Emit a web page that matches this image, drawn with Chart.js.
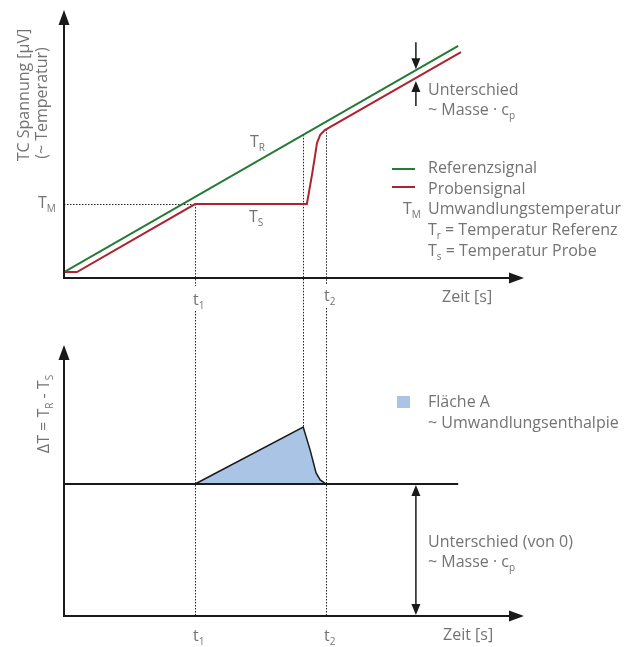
<!DOCTYPE html>
<html>
<head>
<meta charset="utf-8">
<script src="https://cdn.jsdelivr.net/npm/chart.js@4/dist/chart.umd.min.js"></script>
<style>
  html, body { margin: 0; padding: 0; background: #fff; }
  canvas { display: block; }
</style>
</head>
<body>
<canvas id="dsc-top" width="624" height="320"></canvas>
<canvas id="dsc-bottom" width="624" height="327"></canvas>
<script>
(function () {
  'use strict';

  // upper panel: TC signal over time (schematic units 0..100)
  var refTime = [0, 85.7];
  var refSignal = [2.2, 86.6];
  var probeTime = [0, 2.8, 28.5, 52.8, 53.9, 54.6, 55.0, 55.7, 56.7, 86.3];
  var probeSignal = [2.2, 2.2, 27.6, 27.6, 38.4, 45.9, 50.4, 53.4, 55.2, 84.3];

  // lower panel: delta T = T_R - T_S
  var baseTime = [0, 85.7];
  var baseDelta = [48.7, 48.7];
  var peakTime = [28.5, 52.0, 53.5, 54.8, 55.7, 57.0];
  var peakDelta = [48.7, 69.7, 61.3, 52.8, 50.2, 48.7];

  // marker positions
  var t1 = 28.5;
  var tPeak = 52.0;
  var t2 = 57.0;
  var tArrow = 76.5;
  var tempM = 27.6;

  var GREEN = '#267a36';
  var RED = '#ad2330';
  var BLUE = '#a9c4e5';
  var INK = '#1a1a1a';
  var TEXT = '#737373';
  var FONT = "'Open Sans', sans-serif";
  var SIZE = 16;

  function pts(xs, ys) {
    return xs.map(function (x, i) { return { x: x, y: ys[i] }; });
  }

  function interp(xs, ys, x) {
    for (var i = 1; i < xs.length; i++) {
      if (x <= xs[i]) {
        var f = (x - xs[i - 1]) / (xs[i] - xs[i - 1]);
        return ys[i - 1] + f * (ys[i] - ys[i - 1]);
      }
    }
    return ys[ys.length - 1];
  }

  function head(ctx, x, y, dir, len, half) {
    ctx.beginPath();
    ctx.moveTo(x, y);
    if (dir === 'up') { ctx.lineTo(x - half, y + len); ctx.lineTo(x + half, y + len); }
    if (dir === 'down') { ctx.lineTo(x - half, y - len); ctx.lineTo(x + half, y - len); }
    if (dir === 'right') { ctx.lineTo(x - len, y - half); ctx.lineTo(x - len, y + half); }
    ctx.closePath();
    ctx.fill();
  }

  function line(ctx, x0, y0, x1, y1) {
    ctx.beginPath();
    ctx.moveTo(x0, y0);
    ctx.lineTo(x1, y1);
    ctx.stroke();
  }

  // crisp 1px dotted guide
  function dotted(ctx, x0, y0, x1, y1) {
    ctx.save();
    ctx.strokeStyle = '#222';
    ctx.lineWidth = 1;
    ctx.setLineDash([1.5, 1.5]);
    if (x0 === x1) {
      x0 = x1 = Math.round(x0) + 0.5;
    } else {
      y0 = y1 = Math.round(y0) + 0.5;
    }
    line(ctx, x0, y0, x1, y1);
    ctx.restore();
  }

  // text made of runs: [text, isSub]
  function runWidth(ctx, parts, size) {
    var w = 0;
    parts.forEach(function (p) {
      ctx.font = (p[1] ? Math.round(size * 0.6) : size) + 'px ' + FONT;
      w += ctx.measureText(p[0]).width;
    });
    return w;
  }

  function runs(ctx, x, y, parts, size) {
    size = size || SIZE;
    var cx = x;
    ctx.fillStyle = TEXT;
    ctx.textBaseline = 'alphabetic';
    ctx.textAlign = 'left';
    parts.forEach(function (p) {
      ctx.font = (p[1] ? Math.round(size * 0.6) : size) + 'px ' + FONT;
      ctx.fillText(p[0], cx, y + (p[1] ? 4 : 0));
      cx += ctx.measureText(p[0]).width;
    });
  }

  function vertical(ctx, cx, baseX, parts, size) {
    size = size || SIZE;
    ctx.save();
    ctx.translate(baseX, cx);
    ctx.rotate(-Math.PI / 2);
    var w = runWidth(ctx, parts, size);
    runs(ctx, -w / 2, 0, parts, size);
    ctx.restore();
  }

  function axes(ctx, area) {
    ctx.save();
    ctx.strokeStyle = INK;
    ctx.fillStyle = INK;
    ctx.lineWidth = 2;
    line(ctx, area.left, area.bottom, area.left, area.top + 10);
    line(ctx, area.left - 1, area.bottom, area.right - 10, area.bottom);
    head(ctx, area.left, area.top, 'up', 15, 5.5);
    head(ctx, area.right, area.bottom, 'right', 15, 5.5);
    ctx.restore();
  }

  function baseOptions(pad) {
    return {
      responsive: false,
      animation: false,
      layout: { padding: pad },
      plugins: { legend: { display: false }, tooltip: { enabled: false } },
      elements: { point: { radius: 0 }, line: { tension: 0 } },
      scales: {
        x: { type: 'linear', min: 0, max: 100, display: false },
        y: { type: 'linear', min: 0, max: 100, display: false },
      },
    };
  }

  var topDecor = {
    id: 'topDecor',
    beforeDatasetsDraw: function (chart) {
      var ctx = chart.ctx;
      var sx = chart.scales.x;
      var sy = chart.scales.y;
      var h = chart.height;
      var xm = sx.getPixelForValue(t1);
      var ym = sy.getPixelForValue(tempM);
      dotted(ctx, sx.getPixelForValue(0), ym, xm, ym);
      dotted(ctx, xm, ym, xm, 286);
      dotted(ctx, xm, 311, xm, h);
      var xp = sx.getPixelForValue(tPeak);
      dotted(ctx, xp, sy.getPixelForValue(interp(refTime, refSignal, tPeak)), xp, h);
      var x2 = sx.getPixelForValue(t2);
      dotted(ctx, x2, sy.getPixelForValue(interp(probeTime, probeSignal, t2)), x2, 284);
      dotted(ctx, x2, 308, x2, h);
    },
    afterDatasetsDraw: function (chart) {
      var ctx = chart.ctx;
      var area = chart.chartArea;
      var sx = chart.scales.x;
      var sy = chart.scales.y;
      axes(ctx, area);

      // difference arrows
      var xa = sx.getPixelForValue(tArrow);
      var yg = sy.getPixelForValue(interp(refTime, refSignal, tArrow));
      var yr = sy.getPixelForValue(interp(probeTime, probeSignal, tArrow));
      ctx.save();
      ctx.strokeStyle = INK;
      ctx.fillStyle = INK;
      ctx.lineWidth = 1.5;
      line(ctx, xa, yg - 28, xa, yg - 10);
      head(ctx, xa, yg - 1, 'down', 11, 4.5);
      line(ctx, xa, yr + 28, xa, yr + 10);
      head(ctx, xa, yr + 3, 'up', 11, 4.5);
      ctx.restore();

      // axis titles
      vertical(ctx, 95, 29, [['TC Spannung [µV]', false]], 16);
      vertical(ctx, 103, 47, [['(~ Temperatur)', false]], 16);
      runs(ctx, 38, 208, [['T', false], ['M', true]]);
      runs(ctx, 250, 147, [['T', false], ['R', true]]);
      runs(ctx, 249, 222, [['T', false], ['S', true]]);
      runs(ctx, 193, 305, [['t', false], ['1', true]]);
      runs(ctx, 324, 301, [['t', false], ['2', true]]);
      runs(ctx, 442, 302, [['Zeit [s]', false]]);

      runs(ctx, 428, 95, [['Unterschied', false]]);
      runs(ctx, 428, 115, [['~ Masse · c', false], ['p', true]]);

      ctx.save();
      ctx.lineWidth = 2;
      ctx.strokeStyle = GREEN;
      line(ctx, 392, 169, 415, 169);
      ctx.strokeStyle = RED;
      line(ctx, 392, 187, 415, 187);
      ctx.restore();
      runs(ctx, 428, 173, [['Referenzsignal', false]]);
      runs(ctx, 428, 193.5, [['Probensignal', false]]);
      runs(ctx, 403, 214, [['T', false], ['M', true]]);
      runs(ctx, 428, 214, [['Umwandlungstemperatur', false]]);
      runs(ctx, 428, 235, [['T', false], ['r', true], [' = Temperatur Referenz', false]]);
      runs(ctx, 428, 255.5, [['T', false], ['s', true], [' = Temperatur Probe', false]]);
    },
  };

  var bottomDecor = {
    id: 'bottomDecor',
    beforeDatasetsDraw: function (chart) {
      var ctx = chart.ctx;
      var area = chart.chartArea;
      var sx = chart.scales.x;
      var sy = chart.scales.y;
      var x1 = sx.getPixelForValue(t1);
      var xp = sx.getPixelForValue(tPeak);
      var x2 = sx.getPixelForValue(t2);
      dotted(ctx, x1, 0, x1, area.bottom);
      dotted(ctx, xp, 0, xp, sy.getPixelForValue(interp(peakTime, peakDelta, tPeak)));
      dotted(ctx, x2, 0, x2, area.bottom);
    },
    afterDatasetsDraw: function (chart) {
      var ctx = chart.ctx;
      var area = chart.chartArea;
      var sx = chart.scales.x;
      var sy = chart.scales.y;
      axes(ctx, area);

      var xa = sx.getPixelForValue(tArrow);
      var yb = sy.getPixelForValue(baseDelta[0]);
      ctx.save();
      ctx.strokeStyle = INK;
      ctx.fillStyle = INK;
      ctx.lineWidth = 1.5;
      line(ctx, xa, yb + 8, xa, area.bottom - 8);
      head(ctx, xa, yb + 1, 'up', 11, 4.5);
      head(ctx, xa, area.bottom - 1, 'down', 11, 4.5);
      ctx.restore();

      vertical(ctx, 94, 49, [['ΔT = T', false], ['R', true], [' - T', false], ['S', true]], 16);
      runs(ctx, 193, 321, [['t', false], ['1', true]]);
      runs(ctx, 324, 321, [['t', false], ['2', true]]);
      runs(ctx, 443, 320, [['Zeit [s]', false]]);

      ctx.save();
      ctx.fillStyle = BLUE;
      ctx.fillRect(397, 76, 13, 12);
      ctx.restore();
      runs(ctx, 428, 87, [['Fläche A', false]]);
      runs(ctx, 428, 108, [['~ Umwandlungsenthalpie', false]]);
      runs(ctx, 428, 227, [['Unterschied (von 0)', false]]);
      runs(ctx, 428, 247, [['~ Masse · c', false], ['p', true]]);
    },
  };

  new Chart(document.getElementById('dsc-top'), {
    type: 'line',
    data: {
      datasets: [
        {
          label: 'Referenzsignal',
          data: pts(refTime, refSignal),
          borderColor: GREEN,
          borderWidth: 2,
          fill: false,
        },
        {
          label: 'Probensignal',
          data: pts(probeTime, probeSignal),
          borderColor: RED,
          borderWidth: 2,
          fill: false,
        },
      ],
    },
    options: baseOptions({ left: 64, right: 100, top: 10, bottom: 42 }),
    plugins: [topDecor],
  });

  new Chart(document.getElementById('dsc-bottom'), {
    type: 'line',
    data: {
      datasets: [
        {
          label: 'Basislinie',
          data: pts(baseTime, baseDelta),
          borderColor: INK,
          borderWidth: 2,
          fill: false,
        },
        {
          label: 'Fläche A',
          data: pts(peakTime, peakDelta),
          borderColor: INK,
          borderWidth: 1.5,
          backgroundColor: BLUE,
          fill: { value: baseDelta[0] },
        },
      ],
    },
    options: baseOptions({ left: 64, right: 100, top: 25, bottom: 31 }),
    plugins: [bottomDecor],
  });
})();
</script>
</body>
</html>
